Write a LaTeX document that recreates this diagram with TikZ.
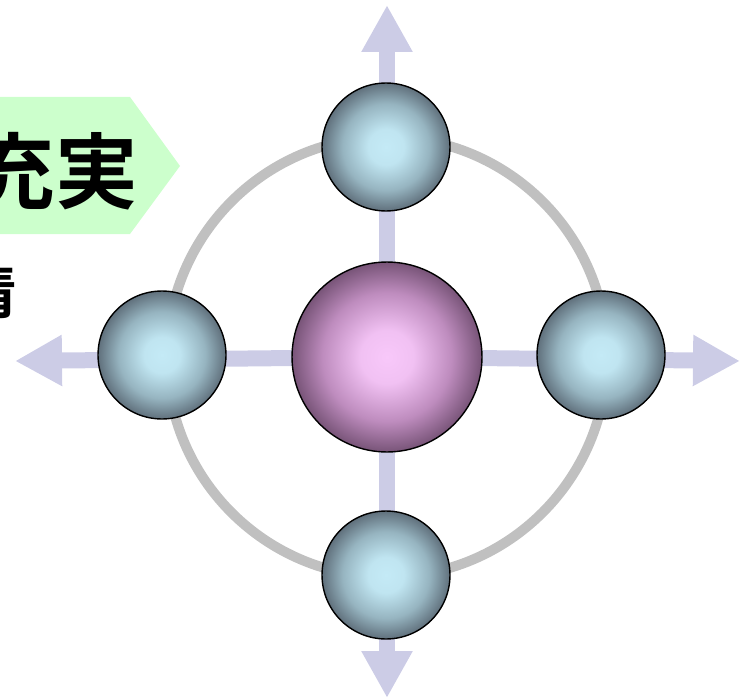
\documentclass[tikz,border=0pt]{standalone}
\usepackage{fontspec}
\newfontfamily\jpfont{Noto Sans CJK JP}[BoldFont={Noto Sans CJK JP Bold}]
\usetikzlibrary{calc, positioning, arrows.meta}
\definecolor{ArrowColour}{RGB}{204,204,230}
\definecolor{ringgrey}{RGB}{192,192,192}
\definecolor{tabgreen}{RGB}{204,255,204}
\definecolor{ballin}{RGB}{196,234,246}
\definecolor{ballmid}{RGB}{150,180,192}
\definecolor{ballout}{RGB}{96,112,124}
\definecolor{hubin}{RGB}{248,200,250}
\definecolor{hubmid}{RGB}{190,140,190}
\definecolor{hubout}{RGB}{120,84,120}
\pgfdeclareradialshading{ballshade}{\pgfpoint{0bp}{0bp}}{%
  color(0bp)=(ballin); color(7bp)=(ballin!90!ballmid); color(17bp)=(ballmid);
  color(25bp)=(ballout); color(50bp)=(ballout)}
\pgfdeclareradialshading{hubshade}{\pgfpoint{0bp}{0bp}}{%
  color(0bp)=(hubin); color(7bp)=(hubin!88!hubmid); color(17bp)=(hubmid);
  color(25bp)=(hubout); color(50bp)=(hubout)}

\begin{document}
\begin{tikzpicture}[x=0.02cm, y=-0.02cm,
    ball/.style={circle, draw=black, line width=0.8pt, minimum size=2.56cm, inner sep=0pt,
                 shading=ballshade},
    hubball/.style={circle, draw=black, line width=0.8pt, minimum size=3.8cm, inner sep=0pt,
                    shading=hubshade},
    crossarrow/.style={ArrowColour, line width=0.32cm,
                       -{Triangle[length=0.94cm, width=0.96cm]}}]
  \clip (0,0) rectangle (746,699);

  % green tab with title (cut at the left edge)
  \fill[tabgreen] (-10,97) -- (130,97) -- (180,166) -- (130,234) -- (-10,234) -- cycle;
  \node[anchor=base east, inner sep=0pt, font=\jpfont\bfseries\fontsize{47}{47}\selectfont] (title) at (138,202) {充実};
  \node[anchor=base east, inner sep=0pt, font=\jpfont\bfseries\fontsize{33}{33}\selectfont] (side) at (17,313) {情};

  % hub and arrow tips
  \coordinate (hubpos) at (387,357);
  \coordinate (ntip) at (387,5);
  \coordinate (stip) at (387,698);
  \coordinate (wtip) at (15,361);
  \coordinate (etip) at (740,361);

  % ring through the four balls
  \draw[ringgrey, line width=0.2cm] (hubpos) circle (4.4cm);

  % cross of arrows
  \foreach \t in {ntip, stip, wtip, etip}
    \draw[crossarrow] (hubpos) -- (\t);

  % balls
  \node[hubball] (hub) at (hubpos) {};
  \node[ball] (top) at (386,147) {};
  \node[ball] (bottom) at (386,575) {};
  \node[ball] (left) at (162,355) {};
  \node[ball] (right) at (601,355) {};
\end{tikzpicture}
\end{document}
